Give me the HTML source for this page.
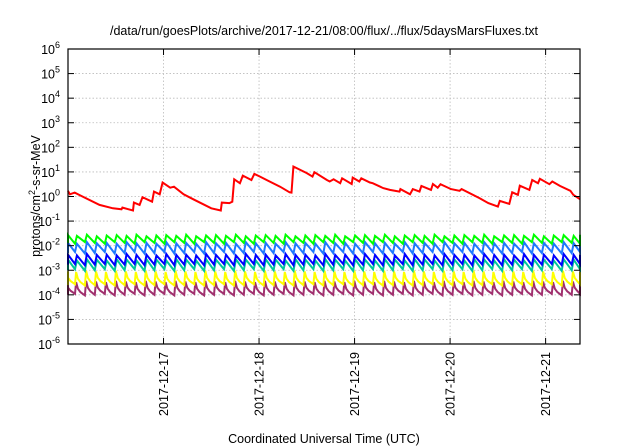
<!DOCTYPE html>
<html><head><meta charset="utf-8"><style>
body{margin:0;background:#fff;}
svg{display:block;font-family:"Liberation Sans",sans-serif;}
</style></head><body>
<svg id="chart" width="640" height="448" viewBox="0 0 640 448" xmlns="http://www.w3.org/2000/svg">
<rect width="640" height="448" fill="#fff"/>
<text x="324" y="35" font-size="12.5" text-anchor="middle">/data/run/goesPlots/archive/2017-12-21/08:00/flux/../flux/5daysMarsFluxes.txt</text>
<text x="324" y="443" font-size="12.5" text-anchor="middle">Coordinated Universal Time (UTC)</text>
<text transform="translate(40,196) rotate(-90)" font-size="12.5" text-anchor="middle">protons/cm<tspan dy="-5" font-size="9">2</tspan><tspan dy="5">-s-sr-MeV</tspan></text>
<g id="grid"></g><g id="series"></g><g id="axes"></g>
</svg>
<script>
const xTickLabels=["2017-12-17","2017-12-18","2017-12-19","2017-12-20","2017-12-21"];
const xTickDays=[1,2,3,4,5];
const yExps=[-6,-5,-4,-3,-2,-1,0,1,2,3,4,5,6];
const redDays=[0,0.02,0.07,0.13,0.33,0.47,0.56,0.57,0.68,0.69,0.75,0.78,0.88,0.90,0.96,0.99,1.07,1.11,1.21,1.31,1.50,1.60,1.61,1.69,1.72,1.74,1.80,1.83,1.92,1.95,2.01,2.11,2.22,2.32,2.34,2.36,2.50,2.56,2.58,2.71,2.74,2.78,2.85,2.87,2.97,2.98,3.05,3.07,3.16,3.19,3.30,3.37,3.47,3.48,3.58,3.61,3.68,3.70,3.80,3.82,3.87,3.90,4.01,4.10,4.12,4.31,4.40,4.50,4.52,4.62,4.65,4.71,4.73,4.83,4.86,4.92,4.94,5.04,5.07,5.15,5.26,5.29,5.36];
const redLog=[0.23,0.09,0.16,0.04,-0.34,-0.48,-0.52,-0.45,-0.57,-0.25,-0.34,-0.03,-0.21,0.20,0.09,0.57,0.36,0.40,0.09,-0.11,-0.48,-0.57,-0.25,-0.27,-0.21,0.70,0.54,0.85,0.67,0.92,0.81,0.61,0.40,0.17,0.16,1.22,0.95,0.81,0.99,0.67,0.61,0.70,0.54,0.74,0.51,0.77,0.61,0.74,0.57,0.54,0.34,0.27,0.20,0.30,0.09,0.30,0.20,0.43,0.27,0.51,0.36,0.50,0.30,0.23,0.30,-0.07,-0.27,-0.41,-0.18,-0.30,0.17,0.07,0.44,0.27,0.67,0.54,0.72,0.50,0.61,0.43,0.23,0.07,-0.11];
const cyclePeriod=0.104;
const greenPeak=[0.027,0.025,0.028,0.024,0.026], greenTrough=[0.013,0.012,0.014];
const skyPeak=[0.013,0.012,0.014,0.0125], skyTrough=[0.005,0.0055,0.0048];
const bluePeak=[0.0043,0.004,0.0046,0.0042], blueTrough=[0.0017,0.0018,0.0016];
const tealPeak=[0.0027,0.0025,0.0028], tealTrough=[0.001,0.0011,0.00095];
const yellowPeak=[0.0009,0.00085,0.00095], yellowTrough=[0.00025,0.00027,0.00024];
const purplePeak=[0.00035,0.00033,0.00037], purpleTrough=[0.0001,0.00011,0.000095];

const X0=68,X1=580,Y0=49,Y1=344,DMAX=5.36;
const NS="http://www.w3.org/2000/svg";
const xs=d=>X0+(X1-X0)*d/DMAX;
const ys=v=>Y1-(Y1-Y0)*(Math.log10(v)+6)/12;
const ysl=l=>Y1-(Y1-Y0)*(l+6)/12;
function mk(tag,attrs,parent){const e=document.createElementNS(NS,tag);for(const k in attrs)e.setAttribute(k,attrs[k]);parent.appendChild(e);return e;}
const grid=document.getElementById('grid'),axes=document.getElementById('axes'),ser=document.getElementById('series');
yExps.forEach(e=>{
  const y=ysl(e);
  if(e>-6&&e<6){const g=mk('line',{x1:X0,x2:X1,y1:y,y2:y,stroke:'#bbb','stroke-width':0.8,'stroke-dasharray':'1.5,2'},grid);
  
  }
  mk('line',{x1:X0,x2:X0+6,y1:y,y2:y,stroke:'#000'},axes);
  mk('line',{x1:X1,x2:X1-6,y1:y,y2:y,stroke:'#000'},axes);
  const t=mk('text',{x:X0-8,y:y+5,'font-size':12.5,'text-anchor':'end'},axes);
  
  
  t.innerHTML='10<tspan dy="-6" font-size="9">'+(e<0?'-'+(-e):e)+'</tspan>';
});
xTickDays.forEach((d,i)=>{
  const x=xs(d);
  const g=mk('line',{x1:x,x2:x,y1:Y0,y2:Y1,stroke:'#bbb','stroke-width':0.8,'stroke-dasharray':'1.5,2'},grid);
  
  
  mk('line',{x1:x,x2:x,y1:Y1,y2:Y1-6,stroke:'#000'},axes);
  mk('line',{x1:x,x2:x,y1:Y0,y2:Y0+6,stroke:'#000'},axes);
  const t=mk('text',{transform:`translate(${x+4.5},${Y1+8}) rotate(-90)`,'font-size':12.5,'text-anchor':'end'},axes);
  
  
  t.textContent=xTickLabels[i];
});
const fr=mk('rect',{x:X0,y:Y0,width:X1-X0,height:Y1-Y0,fill:'none',stroke:'#000','stroke-width':1.2},axes);



function saw(peaks,troughs,spiky){
  const pts=[];let k=0;
  for(let t=-cyclePeriod*0.3;t<DMAX+cyclePeriod;t+=cyclePeriod,k++){
    const p=peaks[k%peaks.length],tr=troughs[k%troughs.length],trn=troughs[(k+1)%troughs.length];
    pts.push([t,tr]);
    if(spiky){
      pts.push([t+0.12*cyclePeriod,p]);
      pts.push([t+0.3*cyclePeriod,Math.sqrt(p*trn)]);
      pts.push([t+0.55*cyclePeriod,Math.pow(p,0.25)*Math.pow(trn,0.75)]);
    }else{pts.push([t+0.2*cyclePeriod,p]);}
  }
  return pts.filter(q=>q[0]>=-0.05&&q[0]<=DMAX+0.05);
}
function draw(pts,color,name,w){
  const d=pts.map((q,i)=>(i?'L':'M')+xs(Math.max(0,Math.min(DMAX,q[0]))).toFixed(1)+','+ys(q[1]).toFixed(1)).join('');
  const p=mk('path',{d:d,fill:'none',stroke:color,'stroke-width':w,'stroke-linejoin':'miter'},ser);
  
  
}
draw(saw(purplePeak,purpleTrough,true),'#a0306e','series-purple',2);
draw(saw(yellowPeak,yellowTrough,true),'#ffff00','series-yellow',2);
draw(saw(tealPeak,tealTrough,false),'#00c89a','series-teal',2);
draw(saw(bluePeak,blueTrough,false),'#0000ff','series-blue',2);
draw(saw(skyPeak,skyTrough,false),'#1e78ff','series-sky-blue',2);
draw(saw(greenPeak,greenTrough,false),'#00ff00','series-green',2);
draw(redDays.map((d,i)=>[d,Math.pow(10,redLog[i])]),'#ff0000','series-red',2);
</script>
</body></html>
